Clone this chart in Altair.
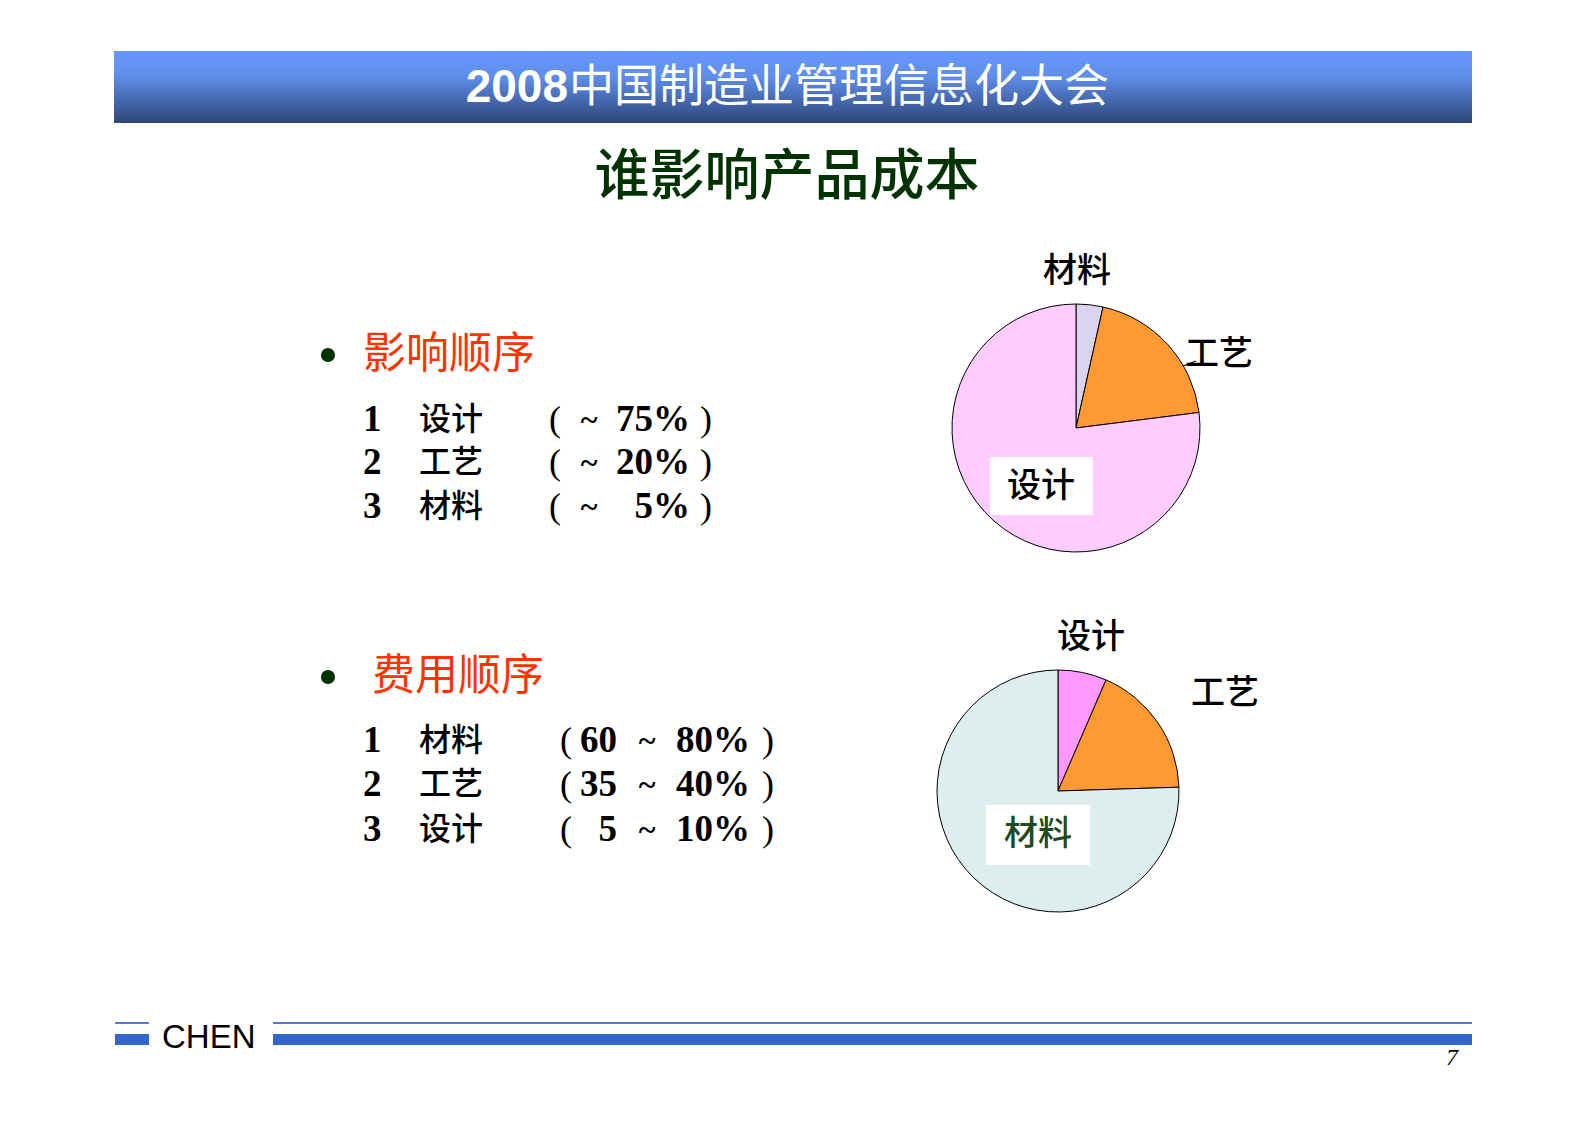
import altair as alt
import pandas as pd

# ---------------- data ----------------
header_year = "2008"
header_text = "中国制造业管理信息化大会"
title_text = "谁影响产品成本"

sec1_title = "影响顺序"
sec1_rank = ["1", "2", "3"]
sec1_items = ["设计", "工艺", "材料"]
sec1_values = ["75%", "20%", "5%"]

sec2_title = "费用顺序"
sec2_rank = ["1", "2", "3"]
sec2_items = ["材料", "工艺", "设计"]
sec2_low = ["60", "35", "5"]
sec2_high = ["80%", "40%", "10%"]

pie1_cats = ["材料", "工艺", "设计"]
pie1_vals = [3.5, 19.5, 77.0]
pie1_colors = ["#DAD5EE", "#FF9933", "#FFCCFF"]

pie2_cats = ["设计", "工艺", "材料"]
pie2_vals = [6.5, 18.0, 75.5]
pie2_colors = ["#FF99FF", "#FF9933", "#DCEEEE"]

footer_name = "CHEN"
page_no = "7"

# ---------------- helpers ----------------
M = 8  # page margin
CJK = "Noto Sans CJK SC"
SERIF = "Liberation Serif, Noto Sans CJK SC"
one = pd.DataFrame({"k": [0]})


def T(s, x, y, size, color="black", font=CJK, weight="normal", align="center", style="normal"):
    return alt.Chart(pd.DataFrame({"t": [s]})).mark_text(
        align=align, baseline="middle", fontSize=size, font=font,
        fontWeight=weight, color=color, fontStyle=style
    ).encode(x=alt.value(x - M), y=alt.value(y - M), text="t:N")


def R(x1, y1, x2, y2, color):
    return alt.Chart(one).mark_rect(color=color).encode(
        x=alt.value(x1 - M), x2=alt.value(x2 - M),
        y=alt.value(y1 - M), y2=alt.value(y2 - M))


layers = []

# header band with gradient
grad = {"gradient": "linear", "x1": 0, "y1": 0, "x2": 0, "y2": 1,
        "stops": [{"offset": 0, "color": "#6699FF"},
                  {"offset": 0.35, "color": "#5F8EEA"},
                  {"offset": 1, "color": "#2D4677"}]}
layers.append(R(114, 51, 1472, 123, grad))
layers.append(T(header_year, 568, 88, 46, "white", "Liberation Sans", "bold", "right"))
layers.append(T(header_text, 569, 88, 45, "white", CJK, "normal", "left"))

# main title
layers.append(T(title_text, 787, 177, 55, "#003300", CJK, 500))

# bullets + section titles
for yb, title, xl in [(355, sec1_title, 363), (677, sec2_title, 372)]:
    layers.append(alt.Chart(one).mark_circle(size=200, color="#003300", opacity=1).encode(
        x=alt.value(328 - M), y=alt.value(yb - M)))
    layers.append(T(title, xl, yb, 43, "#FF3300", CJK, "normal", "left"))

# section 1 list
for i, yr in enumerate([420, 463, 507]):
    layers.append(T(sec1_rank[i], 363, yr, 37, "black", SERIF, "bold", "left"))
    layers.append(T(sec1_items[i], 419, yr, 32, "black", CJK, 500, "left"))
    layers.append(T("(", 555, yr, 36, "black", SERIF, "normal"))
    layers.append(T("~", 589, yr, 32, "black", SERIF, "bold"))
    layers.append(T(sec1_values[i], 690, yr, 37, "black", SERIF, "bold", "right"))
    layers.append(T(")", 706, yr, 36, "black", SERIF, "normal"))

# section 2 list
for i, yr in enumerate([741, 785, 830]):
    layers.append(T(sec2_rank[i], 363, yr, 37, "black", SERIF, "bold", "left"))
    layers.append(T(sec2_items[i], 419, yr, 32, "black", CJK, 500, "left"))
    layers.append(T("(", 566, yr, 36, "black", SERIF, "normal"))
    layers.append(T(sec2_low[i], 617, yr, 37, "black", SERIF, "bold", "right"))
    layers.append(T("~", 647, yr, 32, "black", SERIF, "bold"))
    layers.append(T(sec2_high[i], 750, yr, 37, "black", SERIF, "bold", "right"))
    layers.append(T(")", 768, yr, 36, "black", SERIF, "normal"))


# pies
def pie(cats, vals, colors, cx, cy, r):
    df = pd.DataFrame({"cat": cats, "v": vals, "o": list(range(len(cats)))})
    return alt.Chart(df).mark_arc(outerRadius=r, stroke="black", strokeWidth=1).encode(
        theta=alt.Theta("v:Q", stack=True),
        color=alt.Color("cat:N", scale=alt.Scale(domain=cats, range=colors), legend=None),
        order=alt.Order("o:Q"),
        x=alt.value(cx - M), y=alt.value(cy - M))


layers.append(pie(pie1_cats, pie1_vals, pie1_colors, 1076, 428, 124))
layers.append(pie(pie2_cats, pie2_vals, pie2_colors, 1058, 791, 121))

# pie labels
layers.append(T(pie1_cats[0], 1077, 272, 34, "black", CJK, 500))
layers.append(T(pie1_cats[1], 1219, 355, 34, "black", CJK, 500))
layers.append(alt.Chart(one).mark_rule(color="black", strokeWidth=1.2).encode(
    x=alt.value(1183 - M), x2=alt.value(1196 - M), y=alt.value(366 - M), y2=alt.value(361 - M)))
layers.append(R(990, 457, 1093, 515, "white"))
layers.append(T(pie1_cats[2], 1041, 487, 34, "black", CJK, 500))

layers.append(T(pie2_cats[0], 1091, 638, 34, "black", CJK, 500))
layers.append(T(pie2_cats[1], 1225, 694, 34, "black", CJK, 500))
layers.append(R(986, 805, 1090, 865, "white"))
layers.append(T(pie2_cats[2], 1038, 835, 34, "#1E4A1E", CJK, 500))

# footer
layers.append(R(115, 1022, 149, 1024, "#5577DD"))
layers.append(R(273, 1022, 1472, 1024, "#5577DD"))
layers.append(R(115, 1034, 149, 1045, "#3366CC"))
layers.append(R(273, 1034, 1472, 1045, "#3366CC"))
layers.append(T(footer_name, 162, 1038, 33, "black", "Liberation Sans", "normal", "left"))
layers.append(T(page_no, 1452, 1058, 24, "black", "Liberation Serif", "normal", "center", "italic"))

chart = alt.layer(*layers).resolve_scale(color="independent").properties(
    width=1571, height=1105, padding=0, autosize=alt.AutoSizeParams(type="none"),
    background="white"
).configure_view(stroke=None)

chart.save("out.html", embed_options={"renderer": "svg", "actions": False})
